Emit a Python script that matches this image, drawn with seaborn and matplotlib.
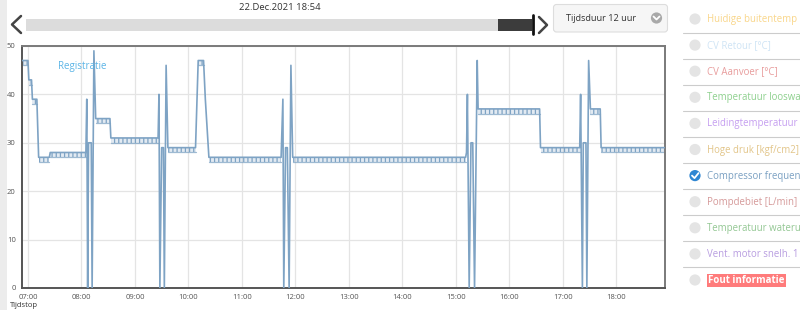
import matplotlib
matplotlib.use("Agg")
import matplotlib.pyplot as plt
import matplotlib.dates as mdates
from matplotlib.patches import Circle, Rectangle, FancyBboxPatch
import pandas as pd
import seaborn as sns

sns.set_style("white")
plt.rcParams['font.family'] = ['Open Sans', 'DejaVu Sans']
plt.rcParams['hatch.linewidth'] = 0.9

# ---------------- data ----------------
day = "2021-12-22"
line_times = ["06:53", "07:00", "07:01", "07:04", "07:05", "07:10", "07:12", "07:24",
              "07:25", "08:05", "08:06", "08:07", "08:08", "08:11", "08:12", "08:14",
              "08:16", "08:32", "08:33", "09:26", "09:27", "09:28", "09:30", "09:32",
              "09:33", "09:35", "09:37", "10:08", "10:11", "10:17", "10:19", "10:23",
              "11:44", "11:46", "11:47", "11:49", "11:51", "11:53", "11:55", "11:57",
              "15:11", "15:12", "15:13", "15:15", "15:17", "15:19", "15:21", "15:24",
              "15:25", "16:34", "16:35", "17:19", "17:20", "17:22", "17:23", "17:26",
              "17:27", "17:29", "17:31", "17:42", "17:43", "18:54"]
line_values = [47, 47, 43, 43, 39, 39, 27, 27,
               28, 28, 39, 0, 30, 30, 0, 49,
               35, 35, 31, 31, 40, 0, 29, 29,
               0, 46, 29, 29, 47, 47, 39, 27,
               27, 39, 0, 29, 29, 0, 46, 27,
               27, 28, 40, 0, 30, 30, 0, 47,
               37, 37, 29, 29, 40, 0, 30, 30,
               0, 47, 37, 37, 29, 29]

# plateaus where the signal flickers between two adjacent values
band_starts = ["06:53", "07:01", "07:05", "07:12", "07:25", "08:16", "08:33", "09:37",
               "10:11", "10:23", "11:57", "15:25", "16:35", "17:31", "17:43"]
band_ends = ["07:00", "07:04", "07:10", "07:24", "08:05", "08:32", "09:26", "10:08",
             "10:17", "11:44", "15:11", "16:34", "17:19", "17:42", "18:54"]
band_lows = [46, 42, 38, 26, 27, 34, 30, 28, 46, 26, 26, 36, 28, 36, 28]
band_highs = [47, 43, 39, 27, 28, 35, 31, 29, 47, 27, 27, 37, 29, 37, 29]

y_ticks = [0, 10, 20, 30, 40, 50]
x_tick_hours = list(range(7, 19))

# legend texts as far as they are visible in the panel
legend_labels = ["Huidige buitentemp", "CV Retour [°C]", "CV Aanvoer [°C]",
                 "Temperatuur looswa", "Leidingtemperatuur",
                 "Hoge druk [kgf/cm2]", "Compressor frequen",
                 "Pompdebiet [L/min]", "Temperatuur wateru",
                 "Vent. motor snelh. 1", "Fout informatie"]
legend_colors = ["#f9d68a", "#cfe4f5", "#e89c9c", "#8ed08e", "#c59ef0",
                 "#e2c589", "#7aa0c2", "#d59999", "#93c793", "#b89de0", "#ffffff"]
legend_active = [False, False, False, False, False, False, True, False, False, False, False]

title_text = "22.Dec.2021 18:54"
duration_text = "Tijdsduur 12 uur"
series_note = "Registratie"
x_axis_label = "Tijdstop"

LINE = "#7ea3c4"
W, H = 800, 310

# ---------------- figure ----------------
fig = plt.figure(figsize=(W / 100, H / 100), dpi=100)
fig.patch.set_facecolor("white")

L, R, T, B = 22, 665, 46, 288
ax = fig.add_axes([L / W, (H - B) / H, (R - L) / W, (B - T) / H])

df = pd.DataFrame({"tijd": pd.to_datetime([f"{day} {t}" for t in line_times]),
                   "waarde": line_values})
sns.lineplot(data=df, x="tijd", y="waarde", ax=ax, color=LINE, lw=1.2,
             estimator=None, sort=False, zorder=3)

for s, e, lo, hi in zip(band_starts, band_ends, band_lows, band_highs):
    ts = pd.to_datetime([f"{day} {s}", f"{day} {e}"])
    ax.fill_between(ts, [lo, lo], [hi, hi], color=LINE, alpha=0.22, lw=0, zorder=2)
    ax.fill_between(ts, [lo, lo], [hi, hi], facecolor="none", edgecolor=LINE,
                    hatch="||||", lw=0, zorder=2)
    ax.plot(ts, [lo, lo], color=LINE, lw=0.9, alpha=0.75, zorder=2)

ax.set_xlim(pd.Timestamp(f"{day} 06:53:20"), pd.Timestamp(f"{day} 18:54:40"))
ax.set_ylim(0, 50)
ax.set_yticks(y_ticks)
ax.set_yticklabels([str(v) for v in y_ticks])
ax.xaxis.set_major_locator(mdates.HourLocator(byhour=x_tick_hours))
ax.xaxis.set_major_formatter(mdates.DateFormatter("%H:%M"))
ax.set_xlabel("")
ax.set_ylabel("")
ax.grid(True, color="#e4e4e4", lw=0.9, zorder=0)
ax.set_axisbelow(True)
ax.tick_params(axis="both", labelsize=5.5, colors="#555555", length=3, width=0.8, pad=1.5)
for side in ["top", "right"]:
    ax.spines[side].set_color("#7a7a7a")
    ax.spines[side].set_linewidth(1.4)
for side in ["left", "bottom"]:
    ax.spines[side].set_color("#555555")
    ax.spines[side].set_linewidth(1.4)

ax.text(0.056, 0.915, series_note, transform=ax.transAxes, color="#5ab4e6",
        fontsize=7, ha="left", va="center")

# ---------------- overlay (UI chrome) ----------------
ov = fig.add_axes([0, 0, 1, 1])
ov.set_xlim(0, W)
ov.set_ylim(H, 0)
ov.axis("off")

ov.add_patch(Rectangle((0, 0), 7, H, color="#ececec", lw=0))

ov.text(280, 8, title_text, fontsize=6.8, color="#333333", ha="center", va="center")

# slider
ov.add_patch(Rectangle((26, 19), 472, 12, color="#dcdcdc", lw=0))
ov.add_patch(Rectangle((498, 19), 34, 12, color="#3c3c3c", lw=0))
ov.plot([533, 533], [15, 34], color="#111111", lw=2)
ov.plot([21, 12, 21], [16, 24.5, 33], color="#444444", lw=1.8, solid_capstyle="round")
ov.plot([539, 547, 539], [17, 25, 33], color="#444444", lw=1.8, solid_capstyle="round")

# dropdown
ov.add_patch(FancyBboxPatch((553.5, 4.5), 114, 27.5,
                            boxstyle="round,pad=0,rounding_size=3",
                            fc="#f6f6f6", ec="#dddddd", lw=0.8))
ov.text(566, 18.5, duration_text, fontsize=6.6, color="#333333", ha="left", va="center")
ov.add_patch(Circle((656.5, 18), 5.6, color="#a9a9a9", lw=0))
ov.plot([653.5, 656.5, 659.5], [16.5, 19.5, 16.5], color="white", lw=1.3)

# legend list
row_y0, row_dy = 19, 26.1
for i, (lab, col, act) in enumerate(zip(legend_labels, legend_colors, legend_active)):
    y = row_y0 + i * row_dy
    if act:
        ov.add_patch(Circle((695, y), 5.6, color="#2f86d2", lw=0))
        ov.plot([692, 694.5, 698.5], [y, y + 2.5, y - 2.5], color="white", lw=1.3)
    else:
        ov.add_patch(Circle((695, y), 5.6, color="#e4e4e4", lw=0))
    if lab == "Fout informatie":
        ov.text(708, y + 0.5, lab, fontsize=7, color="white", fontweight="bold",
                ha="left", va="center",
                bbox=dict(boxstyle="square,pad=0.12", fc="#ff7b7b", ec="none"))
    else:
        ov.text(707, y + 0.5, lab, fontsize=6.9, color=col, ha="left", va="center")
    if i < len(legend_labels) - 1:
        ov.plot([683, 800], [y + 13.5, y + 13.5], color="#cccccc", lw=0.8)

ov.text(10, 302, x_axis_label, fontsize=5.5, color="#333333", ha="left", va="top")

fig.savefig("out.png", dpi=100)
